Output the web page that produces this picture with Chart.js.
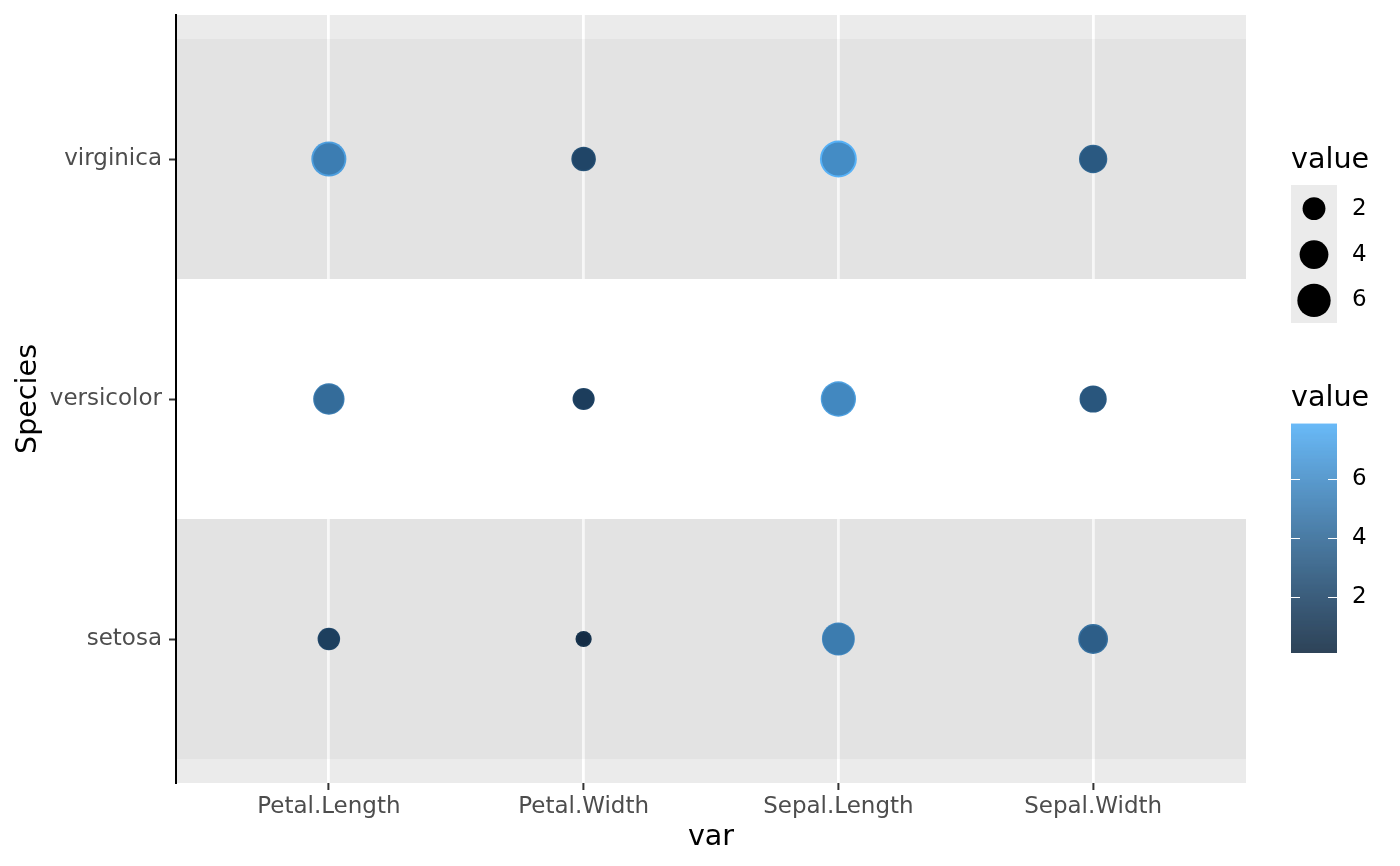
<!DOCTYPE html>
<html>
<head>
<meta charset="utf-8">
<script src="https://cdn.jsdelivr.net/npm/chart.js@4.4.1/dist/chart.umd.min.js"></script>
<style>
  html, body { margin: 0; padding: 0; background: #fff; }
  canvas { display: block; }
</style>
</head>
<body>
<canvas id="chart" width="1400" height="866" style="width:1400px;height:866px"></canvas>
<script>
// categorias
const varNames = ['Petal.Length', 'Petal.Width', 'Sepal.Length', 'Sepal.Width'];
const speciesNames = ['setosa', 'versicolor', 'virginica'];

// maior valor de cada célula (anel externo)
const setosaMax = [1.9, 0.6, 5.8, 4.4];
const versicolorMax = [5.1, 1.8, 7.0, 3.4];
const virginicaMax = [6.9, 2.5, 7.9, 3.8];

// último valor desenhado em cada célula (ponto visível)
const setosaLast = [1.4, 0.2, 5.0, 3.3];
const versicolorLast = [4.1, 1.3, 5.7, 2.8];
const virginicaLast = [5.1, 1.8, 5.9, 3.0];

// escala de valor e legendas
const valueLimits = [0.1, 7.9];
const sizeLegendValues = [2, 4, 6];
const colorLegendTicks = [2, 4, 6];

const FONT = '"DejaVu Sans", "Liberation Sans", sans-serif';

// cores em espaço Lab, como o gradiente padrão do ggplot
function hexToRgb(h) {
    return [parseInt(h.slice(1, 3), 16), parseInt(h.slice(3, 5), 16), parseInt(h.slice(5, 7), 16)];
}
function rgbToLab(rgb) {
    const lin = c => { c /= 255; return c <= 0.04045 ? c / 12.92 : Math.pow((c + 0.055) / 1.055, 2.4); };
    const [r, g, b] = rgb.map(lin);
    const X = (0.4124 * r + 0.3576 * g + 0.1805 * b) / 0.95047;
    const Y = 0.2126 * r + 0.7152 * g + 0.0722 * b;
    const Z = (0.0193 * r + 0.1192 * g + 0.9505 * b) / 1.08883;
    const f = t => t > 0.008856 ? Math.cbrt(t) : 7.787 * t + 16 / 116;
    const fx = f(X), fy = f(Y), fz = f(Z);
    return [116 * fy - 16, 500 * (fx - fy), 200 * (fy - fz)];
}
function labToRgb(lab) {
    const fy = (lab[0] + 16) / 116, fx = fy + lab[1] / 500, fz = fy - lab[2] / 200;
    const inv = t => t * t * t > 0.008856 ? t * t * t : (t - 16 / 116) / 7.787;
    const X = inv(fx) * 0.95047, Y = inv(fy), Z = inv(fz) * 1.08883;
    let r = 3.2406 * X - 1.5372 * Y - 0.4986 * Z;
    let g = -0.9689 * X + 1.8758 * Y + 0.0415 * Z;
    let b = 0.0557 * X - 0.2040 * Y + 1.0570 * Z;
    const gam = c => {
        c = c <= 0.0031308 ? 12.92 * c : 1.055 * Math.pow(c, 1 / 2.4) - 0.055;
        return Math.round(Math.min(1, Math.max(0, c)) * 255);
    };
    return `rgb(${gam(r)},${gam(g)},${gam(b)})`;
}
const labLow = rgbToLab(hexToRgb('#132B43'));
const labHigh = rgbToLab(hexToRgb('#56B1F7'));

function rescale(v) {
    return Math.min(1, Math.max(0, (v - valueLimits[0]) / (valueLimits[1] - valueLimits[0])));
}
function valueColor(v) {
    const t = rescale(v);
    return labToRgb(labLow.map((c, i) => c + (labHigh[i] - c) * t));
}
// raio em px (área proporcional, tamanho 1 a 6)
function valueRadius(v) {
    const size = 1 + 5 * Math.sqrt(rescale(v));
    return 0.975 * (size * 2.845 + 0.945) + 0.9;
}

function buildPoints(rows) {
    const pts = [];
    rows.forEach((vals, s) => {
        vals.forEach((v, k) => pts.push({ x: k + 1, y: s + 1, v: v }));
    });
    return pts;
}

const maxPoints = buildPoints([setosaMax, versicolorMax, virginicaMax]);
const lastPoints = buildPoints([setosaLast, versicolorLast, virginicaLast]);

// order menor = desenhado por cima
function pointDataset(points, order) {
    return {
        data: points,
        order: order,
        pointRadius: points.map(p => valueRadius(p.v)),
        pointHoverRadius: points.map(p => valueRadius(p.v)),
        backgroundColor: points.map(p => valueColor(p.v)),
        borderWidth: 0,
        pointBorderWidth: 0
    };
}

// fundo do painel, faixas e legendas
const panelPlugin = {
    id: 'panel',
    beforeDraw(chart) {
        const { ctx, chartArea: a } = chart;
        ctx.save();
        ctx.fillStyle = '#EBEBEB';
        ctx.fillRect(a.left, a.top, a.right - a.left, a.bottom - a.top);
        ctx.restore();
    },
    beforeDatasetsDraw(chart) {
        const { ctx, chartArea: a, scales } = chart;
        ctx.save();
        speciesNames.forEach((name, i) => {
            const y0 = scales.y.getPixelForValue(i + 1.5);
            const y1 = scales.y.getPixelForValue(i + 0.5);
            ctx.fillStyle = i % 2 === 1 ? '#FFFFFF' : 'rgba(0,0,0,0.03)';
            ctx.fillRect(a.left + 1, y0, a.right - a.left - 1, y1 - y0);
        });
        ctx.restore();
    },
    afterDraw(chart) {
        const ctx = chart.ctx;
        const lx = 1291, kw = 46, labelX = 1352;
        ctx.save();

        // legenda de tamanho
        ctx.fillStyle = '#000';
        ctx.font = `28.6px ${FONT}`;
        ctx.textAlign = 'left';
        ctx.textBaseline = 'alphabetic';
        ctx.fillText('value', lx, 167.5);
        ctx.fillStyle = '#EBEBEB';
        ctx.fillRect(lx, 185, kw, 138);
        const keyY = [208.6, 254.6, 300.4];
        ctx.font = `23px ${FONT}`;
        ctx.textBaseline = 'middle';
        sizeLegendValues.forEach((v, i) => {
            ctx.fillStyle = '#000';
            ctx.beginPath();
            ctx.arc(lx + kw / 2, keyY[i], valueRadius(v), 0, Math.PI * 2);
            ctx.fill();
            ctx.fillText(String(v), labelX, keyY[i]);
        });

        // barra de cores
        ctx.font = `28.6px ${FONT}`;
        ctx.textBaseline = 'alphabetic';
        ctx.fillText('value', lx, 405.7);
        const barTop = 423.6, barBottom = 653;
        const valToY = v => barBottom - (v - valueLimits[0]) / (valueLimits[1] - valueLimits[0]) * (barBottom - barTop);
        for (let y = barTop; y < barBottom; y += 1) {
            const v = valueLimits[0] + (barBottom - y - 0.5) / (barBottom - barTop) * (valueLimits[1] - valueLimits[0]);
            ctx.fillStyle = valueColor(v);
            ctx.fillRect(lx, y, kw, Math.min(1.2, barBottom - y));
        }
        ctx.strokeStyle = '#FFFFFF';
        ctx.lineWidth = 1;
        ctx.font = `23px ${FONT}`;
        ctx.textBaseline = 'middle';
        ctx.fillStyle = '#000';
        colorLegendTicks.forEach(v => {
            const y = Math.round(valToY(v)) + 0.5;
            ctx.beginPath();
            ctx.moveTo(lx, y); ctx.lineTo(lx + 9, y);
            ctx.moveTo(lx + kw - 9, y); ctx.lineTo(lx + kw, y);
            ctx.stroke();
            ctx.fillText(String(v), labelX, valToY(v));
        });
        ctx.restore();
    }
};

function createChart() {
    new Chart(document.getElementById('chart'), {
        type: 'scatter',
        data: {
            datasets: [pointDataset(lastPoints, 0), pointDataset(maxPoints, 1)]
        },
        options: {
            responsive: false,
            devicePixelRatio: 1,
            animation: false,
            events: [],
            layout: { autoPadding: false, padding: { top: 15, right: 154, left: 0, bottom: 0 } },
            plugins: { legend: { display: false }, tooltip: { enabled: false } },
            scales: {
                x: {
                    type: 'linear',
                    min: 0.4,
                    max: 4.6,
                    afterBuildTicks: s => { s.ticks = varNames.map((n, i) => ({ value: i + 1 })); },
                    afterFit: s => { s.height = 83; s.paddingLeft = 0; s.paddingRight = 0; },
                    grid: {
                        color: '#FFFFFF',
                        lineWidth: 2.8,
                        tickColor: '#333333',
                        tickLength: 7,
                        tickWidth: 2
                    },
                    border: { display: false },
                    ticks: {
                        autoSkip: false,
                        maxRotation: 0,
                        padding: 3,
                        color: '#4D4D4D',
                        font: { family: FONT, size: 23 },
                        callback: v => varNames[v - 1]
                    },
                    title: {
                        display: true,
                        text: 'var',
                        color: '#000',
                        font: { family: FONT, size: 28.6, lineHeight: 1.2 },
                        padding: { top: 0, bottom: 11.6 }
                    }
                },
                y: {
                    type: 'linear',
                    min: 0.4,
                    max: 3.6,
                    afterBuildTicks: s => { s.ticks = speciesNames.map((n, i) => ({ value: i + 1 })); },
                    afterFit: s => { s.width = 176; s.paddingTop = 0; s.paddingBottom = 0; },
                    grid: {
                        color: 'rgba(0,0,0,0)',
                        tickColor: '#333333',
                        tickLength: 7,
                        tickWidth: 2
                    },
                    border: { display: true, color: '#000000', width: 2, z: 1 },
                    ticks: {
                        autoSkip: false,
                        padding: 7,
                        color: '#4D4D4D',
                        font: { family: FONT, size: 23 },
                        callback: v => speciesNames[v - 1]
                    },
                    title: {
                        display: true,
                        text: 'Species',
                        color: '#000',
                        font: { family: FONT, size: 28.6, lineHeight: 1.2 },
                        padding: { top: 11, bottom: 0 }
                    }
                }
            }
        },
        plugins: [panelPlugin]
    });
}

document.addEventListener('DOMContentLoaded', createChart);
</script>
</body>
</html>
